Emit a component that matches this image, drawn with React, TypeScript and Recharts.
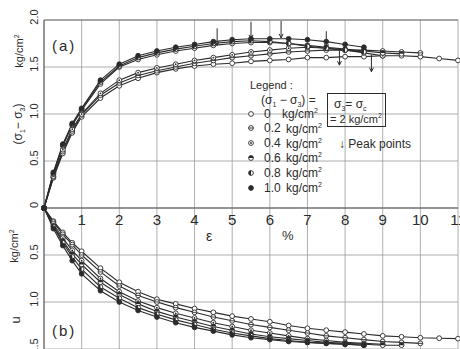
import React from "react";
import { ComposedChart, Line, Scatter, XAxis, YAxis, CartesianGrid, ReferenceLine } from "recharts";

// axial strain (%) at which readings were taken
const strain = [0, 0.25, 0.5, 0.75, 1, 1.5, 2, 2.5, 3, 3.5, 4, 4.5, 5, 5.5, 6, 6.5, 7, 7.5, 8, 8.5, 9, 9.5, 10, 10.5, 11];

// (a) deviator stress (sigma1 - sigma3), kg/cm2
const dev0 = [0, 0.32, 0.58, 0.8, 0.97, 1.17, 1.3, 1.38, 1.44, 1.48, 1.51, 1.53, 1.54, 1.56, 1.57, 1.58, 1.6, 1.6, 1.61, 1.61, 1.62, 1.62, 1.61, 1.59, 1.57];
const dev02 = [0, 0.33, 0.6, 0.82, 0.99, 1.2, 1.33, 1.41, 1.46, 1.5, 1.54, 1.57, 1.6, 1.62, 1.64, 1.66, 1.67, 1.68, 1.68, 1.68, 1.67, 1.66, 1.65, null, null];
const dev04 = [0, 0.34, 0.62, 0.84, 1.0, 1.22, 1.36, 1.44, 1.49, 1.53, 1.57, 1.6, 1.63, 1.66, 1.68, 1.7, 1.71, 1.7, 1.68, 1.65, 1.62, null, null, null, null];
const dev06 = [0, 0.36, 0.66, 0.88, 1.04, 1.32, 1.5, 1.58, 1.63, 1.67, 1.7, 1.73, 1.75, 1.76, 1.76, 1.75, 1.73, 1.71, 1.69, 1.67, 1.65, 1.64, null, null, null];
const dev08 = [0, 0.37, 0.67, 0.89, 1.05, 1.34, 1.51, 1.6, 1.65, 1.69, 1.72, 1.75, 1.77, 1.78, 1.77, 1.75, 1.72, 1.7, 1.68, 1.66, null, null, null, null, null];
const dev10 = [0, 0.38, 0.68, 0.9, 1.06, 1.36, 1.53, 1.62, 1.67, 1.71, 1.74, 1.77, 1.79, 1.8, 1.8, 1.8, 1.79, 1.77, 1.74, 1.71, null, null, null, null, null];

// (b) pore pressure u, kg/cm2 (plotted downward)
const u0 = [0, -0.14, -0.26, -0.37, -0.46, -0.64, -0.79, -0.89, -0.97, -1.02, -1.07, -1.11, -1.15, -1.18, -1.21, -1.25, -1.28, -1.3, -1.32, -1.34, -1.36, -1.37, -1.38, -1.385, -1.39];
const u02 = [0, -0.15, -0.28, -0.39, -0.5, -0.68, -0.83, -0.93, -1.0, -1.06, -1.11, -1.16, -1.2, -1.24, -1.27, -1.3, -1.33, -1.36, -1.38, -1.4, -1.42, -1.43, -1.44, null, null];
const u04 = [0, -0.17, -0.32, -0.45, -0.56, -0.75, -0.89, -0.99, -1.06, -1.12, -1.17, -1.22, -1.26, -1.3, -1.33, -1.36, -1.39, -1.41, -1.43, -1.44, -1.45, null, null, null, null];
const u06 = [0, -0.19, -0.35, -0.49, -0.6, -0.79, -0.92, -1.02, -1.1, -1.16, -1.21, -1.26, -1.3, -1.34, -1.37, -1.39, -1.41, -1.43, -1.44, -1.45, -1.46, -1.46, null, null, null];
const u08 = [0, -0.2, -0.37, -0.52, -0.65, -0.84, -0.96, -1.06, -1.13, -1.19, -1.24, -1.29, -1.33, -1.36, -1.39, -1.41, -1.43, -1.44, -1.45, -1.46, null, null, null, null, null];
const u10 = [0, -0.22, -0.4, -0.56, -0.7, -0.88, -1.0, -1.09, -1.16, -1.22, -1.27, -1.31, -1.35, -1.38, -1.4, -1.42, -1.43, -1.44, -1.45, -1.46, null, null, null, null, null];

// peak points marked with arrows
const peakStrain = [4.6, 5.5, 6.3, 7.5, 7.85, 8.7];
const peakValue = [1.73, 1.8, 1.81, 1.7, 1.52, 1.45];

const stressLevels = ["0", "0.2", "0.4", "0.6", "0.8", "1.0"];
const xTicks = [1, 2, 3, 4, 5, 6, 7, 8, 9, 10, 11];
const yTicks = [-1.5, -1, -0.5, 0, 0.5, 1, 1.5, 2];

const devSeries = [dev0, dev02, dev04, dev06, dev08, dev10];
const uSeries = [u0, u02, u04, u06, u08, u10];

const rows = strain.map((e, i) => {
  const r: Record<string, number | null> = { e };
  devSeries.forEach((s, k) => (r["a" + k] = s[i]));
  uSeries.forEach((s, k) => (r["b" + k] = s[i]));
  return r;
});
const tickRows = xTicks.map((t) => ({ e: t, v: 0 }));
const peakRows = peakStrain.map((e, i) => ({ e, v: peakValue[i] }));

const INK = "#2b2b2b";
const FONT = "'Liberation Sans', Arial, sans-serif";

function Marker({ cx, cy, kind }: { cx: number; cy: number; kind: number }) {
  const r = 2.4;
  const sw = 0.9;
  if (kind === 5) return <circle cx={cx} cy={cy} r={r} fill={INK} stroke={INK} strokeWidth={sw} />;
  return (
    <g>
      <circle cx={cx} cy={cy} r={r} fill="#fff" stroke={INK} strokeWidth={sw} />
      {kind === 1 && <line x1={cx - r} y1={cy} x2={cx + r} y2={cy} stroke={INK} strokeWidth={sw} />}
      {kind === 2 && <circle cx={cx} cy={cy} r={0.9} fill={INK} />}
      {kind === 3 && <path d={`M${cx - r},${cy} A${r},${r} 0 0 1 ${cx + r},${cy} Z`} fill={INK} />}
      {kind === 4 && <path d={`M${cx},${cy - r} A${r},${r} 0 0 0 ${cx},${cy + r} Z`} fill={INK} />}
    </g>
  );
}

const dotFor = (kind: number) => (p: any) => {
  if (p.cy == null || p.value == null || Number.isNaN(p.cy)) return <g key={p.key ?? p.index} />;
  return (
    <g key={p.key ?? p.index}>
      <Marker cx={p.cx} cy={p.cy} kind={kind} />
    </g>
  );
};

const YTick = ({ x, y, payload }: any) => {
  const v = payload.value as number;
  const label = v === 0 ? "0" : Math.abs(v).toFixed(1);
  const cx = x - 2;
  const cy = y - 3;
  return (
    <text x={cx} y={cy} transform={`rotate(-90 ${cx} ${cy})`} textAnchor="middle" dominantBaseline="central" fontSize={11} fontFamily={FONT} fill={INK}>
      {label}
    </text>
  );
};

const XTickShape = (p: any) => (
  <text x={p.cx} y={p.cy + 17} textAnchor="middle" fontSize={15} fontFamily={FONT} fill={INK}>
    {p.payload.e}
  </text>
);

const PeakArrow = (p: any) => (
  <g stroke={INK} strokeWidth={1}>
    <line x1={p.cx} y1={p.cy - 17} x2={p.cx} y2={p.cy} />
    <path d={`M${p.cx - 2},${p.cy - 4} L${p.cx},${p.cy} L${p.cx + 2},${p.cy - 4}`} fill="none" />
  </g>
);

const txt: React.CSSProperties = { position: "absolute", fontFamily: FONT, color: INK, whiteSpace: "nowrap", lineHeight: 1 };

function Rotated({ left, top, children, size = 11 }: { left: number; top: number; children: React.ReactNode; size?: number }) {
  return (
    <div style={{ ...txt, left, top, fontSize: size, transform: "translate(-50%, -50%) rotate(-90deg)" }}>{children}</div>
  );
}

function LegendBlock() {
  return (
    <>
      <div style={{ ...txt, left: 250, top: 80, fontSize: 11 }}>Legend :</div>
      <div style={{ ...txt, left: 261, top: 94, fontSize: 12 }}>
        (σ<sub style={{ fontSize: 7 }}>1</sub> − σ<sub style={{ fontSize: 7 }}>3</sub>) =
      </div>
      {stressLevels.map((s, k) => (
        <div key={s} style={{ ...txt, left: 246, top: 107 + k * 14.8, fontSize: 12, display: "flex", alignItems: "center" }}>
          <svg width={10} height={10} style={{ marginRight: 8 }}>
            <Marker cx={5} cy={5} kind={k} />
          </svg>
          <span style={{ width: k === 0 ? 18 : 22 }}>{s}</span>
          <span>
            kg/cm<sup style={{ fontSize: 7 }}>2</sup>
          </span>
        </div>
      ))}
      <div style={{ position: "absolute", left: 327, top: 93, width: 57, height: 32, border: `1px solid ${INK}` }} />
      <div style={{ ...txt, left: 334, top: 98, fontSize: 12 }}>
        σ<sub style={{ fontSize: 7 }}>3</sub>= σ<sub style={{ fontSize: 7 }}>c</sub>
      </div>
      <div style={{ ...txt, left: 330, top: 112, fontSize: 11 }}>
        = 2 kg/cm<sup style={{ fontSize: 7 }}>2</sup>
      </div>
      <div style={{ ...txt, left: 339, top: 138, fontSize: 12 }}>↓ Peak points</div>
    </>
  );
}

export default function App() {
  return (
    <div style={{ position: "absolute", left: 0, top: 0, width: 460, height: 349, background: "#fff", overflow: "hidden" }}>
      <ComposedChart width={460} height={349} data={rows} margin={{ top: 20, right: 2, bottom: 0, left: 0 }}>
        <CartesianGrid stroke="#9a9a9a" strokeWidth={0.8} />
        <XAxis dataKey="e" type="number" domain={[0, 11]} ticks={[0, ...xTicks]} hide />
        <YAxis type="number" domain={[-1.5, 2]} ticks={yTicks} width={44} tickLine={false} axisLine={{ stroke: "#555" }} tick={<YTick />} interval={0} />
        <ReferenceLine y={0} stroke="#555" strokeWidth={1.2} />
        <ReferenceLine y={2} stroke="#777" strokeWidth={1.2} />
        {devSeries.map((_, k) => (
          <Line key={"a" + k} dataKey={"a" + k} stroke={INK} strokeWidth={1.1} dot={dotFor(k)} isAnimationActive={false} connectNulls={false} />
        ))}
        {uSeries.map((_, k) => (
          <Line key={"b" + k} dataKey={"b" + k} stroke={INK} strokeWidth={1.1} dot={dotFor(k)} isAnimationActive={false} connectNulls={false} />
        ))}
        <Scatter data={tickRows} dataKey="v" shape={XTickShape} isAnimationActive={false} />
        <Scatter data={peakRows} dataKey="v" shape={PeakArrow} isAnimationActive={false} />
      </ComposedChart>

      <div style={{ ...txt, left: 52, top: 38, fontSize: 15, letterSpacing: 2 }}>(a)</div>
      <div style={{ ...txt, left: 52, top: 323, fontSize: 15, letterSpacing: 2 }}>(b)</div>
      <div style={{ ...txt, left: 206, top: 229, fontSize: 14 }}>ε</div>
      <div style={{ ...txt, left: 282, top: 229, fontSize: 13 }}>%</div>

      <Rotated left={19} top={51}>
        kg/cm<sup style={{ fontSize: 7 }}>2</sup>
      </Rotated>
      <Rotated left={19} top={124} size={12}>
        (σ<sub style={{ fontSize: 7 }}>1</sub>− σ<sub style={{ fontSize: 7 }}>3</sub>)
      </Rotated>
      <Rotated left={14} top={246}>
        kg/cm<sup style={{ fontSize: 7 }}>2</sup>
      </Rotated>
      <Rotated left={15} top={320} size={13}>
        u
      </Rotated>

      <LegendBlock />
    </div>
  );
}
